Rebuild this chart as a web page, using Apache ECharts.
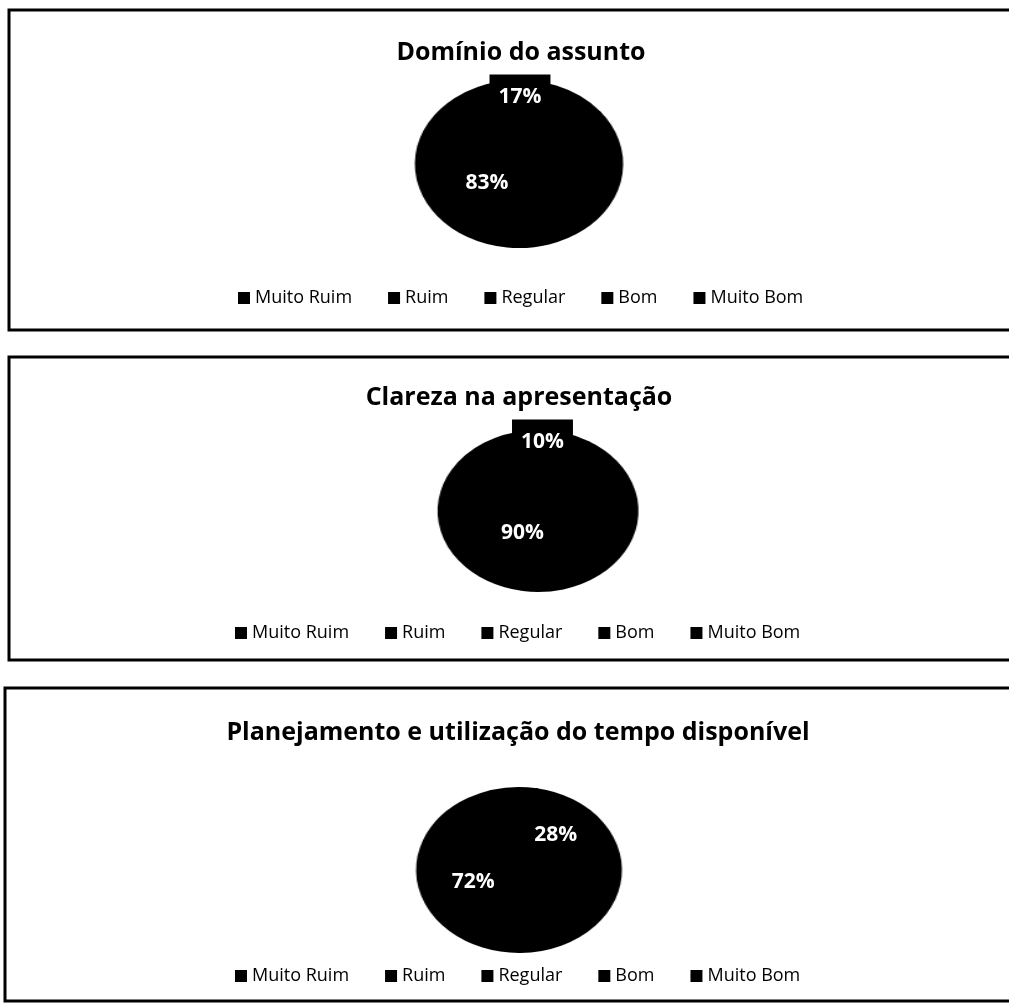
<!DOCTYPE html>
<html>
<head>
<meta charset="utf-8">
<title>Avaliação</title>
<script src="https://cdn.jsdelivr.net/npm/echarts@6/dist/echarts.min.js"></script>
<style>
  html, body { margin: 0; padding: 0; background: #fff; }
  #wrap { position: relative; width: 1009px; height: 1005px; overflow: hidden; }
  /* the scan is stretched sideways, so the pies are drawn on a layer scaled in x */
  #pieShapes { position: absolute; left: 0; top: 0; width: 1009px; height: 1005px; transform: scaleX(1.24); transform-origin: 0 0; }
  #main { position: absolute; left: 0; top: 0; width: 1009px; height: 1005px; }
</style>
</head>
<body>
<div id="wrap">
  <div id="pieShapes"></div>
  <div id="main"></div>
</div>
<script>
// categorias e valores (%)
const categories = ['Muito Ruim', 'Ruim', 'Regular', 'Bom', 'Muito Bom'];
const titles = ['Domínio do assunto', 'Clareza na apresentação', 'Planejamento e utilização do tempo disponível'];
const dominioValues = [0, 0, 0, 17, 83];
const clarezaValues = [0, 0, 0, 10, 90];
const planejamentoValues = [0, 0, 0, 28, 72];
const allValues = [dominioValues, clarezaValues, planejamentoValues];

const STRETCH = 1.24;
const FONT = '"Open Sans", "Noto Sans", sans-serif';

// layout of each panel (pixels)
const panelLayout = [
    { frame: [9, 10, 320], titleX: 516, titleY: 35, pie: [519, 164, 83], labelPie: [503.5, 140, 86], startAngle: 99.6, legendX: 233, legendY: 284 },
    { frame: [9, 357, 303], titleX: 514, titleY: 380, pie: [538, 511, 80], labelPie: [532.5, 487.5, 87], startAngle: 95.6, legendX: 230, legendY: 619 },
    { frame: [5, 688, 313], titleX: 513, titleY: 715, pie: [519, 870, 82], labelPie: [514.5, 858.5, 89], startAngle: 80, legendX: 230, legendY: 962 }
];

function buildData(values, withLabel) {
    return categories.map((name, i) => ({
        name: name,
        value: values[i],
        label: { show: withLabel && values[i] > 0 }
    }));
}

// camada de baixo: as pizzas (elipses)
const shapeChart = echarts.init(document.getElementById('pieShapes'));
shapeChart.setOption({
    animation: false,
    series: panelLayout.map((p, k) => ({
        type: 'pie',
        silent: true,
        center: [p.pie[0] / STRETCH, p.pie[1]],
        radius: p.pie[2],
        startAngle: p.startAngle,
        label: { show: false },
        labelLine: { show: false },
        itemStyle: { color: '#000', borderColor: '#000', borderWidth: 2 },
        data: buildData(allValues[k], false)
    }))
});

// camada de cima: molduras, títulos, legendas e rótulos
const myChart = echarts.init(document.getElementById('main'));
const option = {
    animation: false,
    title: panelLayout.map((p, k) => ({
        text: titles[k],
        left: p.titleX,
        top: p.titleY,
        textAlign: 'center',
        textStyle: { fontFamily: FONT, fontWeight: 'bold', fontSize: 25, color: '#000' }
    })),
    legend: panelLayout.map(p => ({
        data: categories,
        left: p.legendX,
        top: p.legendY,
        icon: 'rect',
        itemWidth: 12,
        itemHeight: 12,
        itemGap: 36,
        selectedMode: false,
        itemStyle: { color: '#000' },
        textStyle: { fontFamily: FONT, fontSize: 18, color: '#000' }
    })),
    graphic: panelLayout.map(p => ({
        type: 'rect',
        silent: true,
        shape: { x: p.frame[0], y: p.frame[1], width: 1100, height: p.frame[2] },
        style: { fill: null, stroke: '#000', lineWidth: 3 }
    })),
    series: panelLayout.map((p, k) => ({
        type: 'pie',
        silent: true,
        center: [p.labelPie[0], p.labelPie[1]],
        radius: p.labelPie[2],
        startAngle: p.startAngle,
        avoidLabelOverlap: false,
        itemStyle: { color: 'rgba(0,0,0,0)', borderWidth: 0 },
        labelLine: { show: false },
        label: {
            position: 'inside',
            formatter: '{c}%',
            color: '#fff',
            fontFamily: FONT,
            fontWeight: 'bold',
            fontSize: 21,
            backgroundColor: '#000',
            padding: [12, 9]
        },
        data: buildData(allValues[k], true)
    }))
};
myChart.setOption(option);

window.addEventListener('resize', () => {
    shapeChart.resize();
    myChart.resize();
});
</script>
</body>
</html>
